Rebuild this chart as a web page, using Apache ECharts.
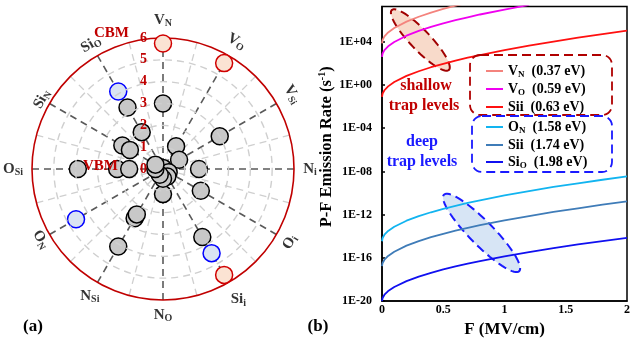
<!DOCTYPE html>
<html>
<head>
<meta charset="utf-8">
<script src="https://cdn.jsdelivr.net/npm/echarts@6/dist/echarts.min.js"></script>
<style>
html,body{margin:0;padding:0;background:#fff;}
#main{width:633px;height:343px;}
</style>
</head>
<body>
<div id="main"></div>
<script>
// ---------- Panel (a) data ----------
const categories = ['VN','VO','VSi','Ni','Oi','Sii','NO','NSi','ON','OSi','SiN','SiO'];
const catMain = ['V','V','V','N','O','Si','N','N','O','O','Si','Si'];
const catSub  = ['N','O','Si','i','i','i','O','Si','N','Si','N','O'];
const radialTicks = [0,1,2,3,4,5,6];

const grayCat = ['VN','VN','VO','VSi','VSi','Ni','Oi','Oi','Sii','Sii','NO','NO','NSi','NSi','NSi','NSi','OSi','OSi','OSi','OSi','SiN','SiN','SiN','SiO','SiO'];
const grayR   = [3.0, 0.05,1.2, 3.0, 0.85, 1.65,2.0, 0.3, 3.6, 0.4, 1.15,0.45,4.1, 2.6, 2.4, 0.3, 3.9, 2.1, 1.55,0.35,2.15,1.75,0.4, 3.25,1.95];
const shallowCat = ['VN','VO','Sii'];
const shallowR   = [5.75,5.6,5.6];
const deepCat = ['SiO','ON','Sii'];
const deepR   = [4.1,4.6,4.45];

// ---------- Panel (b) data ----------
const fieldX = [0,0.005,0.02,0.05,0.1,0.2,0.3,0.4,0.5,0.6,0.7,0.8,1.0,1.2,1.4,1.6,1.8,2.0];
const logVN   = [3.85,4.17,4.49,4.86,5.27,5.86,6.31,6.70,7.03,7.34,7.62];
const logVO   = [2.60,2.91,3.22,3.58,3.98,4.56,5.00,5.37,5.70,5.99,6.26,6.52,6.98,7.40];
const logSii1 = [-1.10,-0.79,-0.49,-0.13,0.27,0.84,1.27,1.64,1.96,2.25,2.52,2.77,3.23,3.64,4.02,4.38,4.71,5.02];
const logON   = [-14.46,-14.16,-13.86,-13.51,-13.12,-12.56,-12.14,-11.78,-11.46,-11.18,-10.91,-10.67,-10.22,-9.82,-9.44,-9.10,-8.77,-8.46];
const logSii2 = [-16.77,-16.47,-16.17,-15.82,-15.43,-14.87,-14.45,-14.09,-13.77,-13.49,-13.22,-12.98,-12.53,-12.13,-11.75,-11.41,-11.08,-10.77];
const logSiO  = [-20,-19.71,-19.41,-19.07,-18.69,-18.15,-17.73,-17.38,-17.07,-16.79,-16.54,-16.30,-15.86,-15.47,-15.10,-14.76,-14.45,-14.15];

const seriesNames = ['VN (0.37 eV)','VO (0.59 eV)','Sii (0.63 eV)','ON (1.58 eV)','Sii (1.74 eV)','SiO (1.98 eV)'];
const seriesMain  = ['V','V','Sii','O','Sii','Si'];
const seriesSub   = ['N','O','','N','','O'];
const seriesEv    = ['(0.37 eV)','(0.59 eV)','(0.63 eV)','(1.58 eV)','(1.74 eV)','(1.98 eV)'];
const seriesVals  = [logVN,logVO,logSii1,logON,logSii2,logSiO];

// ellipse annotations: [x1, logY1, x2, logY2] tips of major axis (data coords)
const ellipseShallow = [0.08, 6.93, 0.546, 1.39];
const ellipseDeep    = [0.506, -10.15, 1.12, -17.23];

// ---------- styles ----------
const FF = '"Liberation Serif","Times New Roman",serif';
const DARKRED = '#c00000';
const colors = ['#f4837d','#f000f0','#ff1010','#12b4f0','#3f7cb8','#1010f0'];
const labelRotate = [0,-30,-60,0,60,0,0,0,-60,0,60,30];
const labelRadius = [6.82,6.74,6.83,6.73,6.7,6.9,6.7,6.7,6.46,6.87,6.4,6.6];
const POLAR_R = 131, RMAX = 6;

function angleOf(cat){ return categories.indexOf(cat) * 30; }

const chart = echarts.init(document.getElementById('main'), null, {renderer:'canvas'});

const subRich = {
  m:{fontFamily:FF,fontWeight:'bold',fontSize:15,color:'#000'},
  s:{fontFamily:FF,fontWeight:'bold',fontSize:10,color:'#000',padding:[7,0,0,0]}
};

function ellipseRender(color, fill, semiMinor){
  return function(params, api){
    const p1 = api.coord([api.value(0), api.value(1)]);
    const p2 = api.coord([api.value(2), api.value(3)]);
    const cx = (p1[0]+p2[0])/2, cy = (p1[1]+p2[1])/2;
    const dx = p2[0]-p1[0], dy = p2[1]-p1[1];
    const L = Math.sqrt(dx*dx+dy*dy)/2;
    const ux = dx/(2*L), uy = dy/(2*L);
    const vx = -uy, vy = ux;
    const pts = [];
    for (let k=0;k<72;k++){
      const t = k/72*Math.PI*2;
      pts.push([cx + ux*L*Math.cos(t) + vx*semiMinor*Math.sin(t),
                cy + uy*L*Math.cos(t) + vy*semiMinor*Math.sin(t)]);
    }
    return {type:'polygon', shape:{points:pts},
      style:{fill:fill, stroke:color, lineWidth:2, lineDash:[9,5]}};
  };
}

const GRAYC = '#cfcfcf';
const option = {
  animation:false,
  backgroundColor:'#fff',
  polar:{center:[163,169], radius:POLAR_R},
  angleAxis:{
    type:'value', min:0, max:360, interval:30, startAngle:90, clockwise:true,
    axisLine:{show:true, lineStyle:{color:DARKRED, width:1.6, type:'solid'}},
    axisTick:{show:false}, axisLabel:{show:false},
    splitLine:{show:true, lineStyle:{color:'#5a5a5a', width:1.6, type:[7,5]}},
    minorTick:{show:false, splitNumber:2},
    minorSplitLine:{show:true, lineStyle:{color:GRAYC, width:1.3, type:[7,5]}},
    z:1
  },
  radiusAxis:{
    type:'value', min:0, max:RMAX, interval:1,
    axisLine:{show:false}, axisTick:{show:false},
    splitLine:{show:true, lineStyle:{color:[GRAYC,GRAYC,GRAYC,GRAYC,GRAYC,GRAYC,'rgba(0,0,0,0)'], width:1.4, type:[7,5]}},
    axisLabel:{
      show:true, margin:16, color:DARKRED,
      fontFamily:FF, fontWeight:'bold', fontSize:14,
      formatter:function(v){
        if (radialTicks.indexOf(v) < 0) return '';
        if (v===6) return '{c6|CBM}{n|6}';
        if (v===0) return '{c0|VBM}{n|0}';
        return '{n|'+v+'}';
      },
      rich:{
        n:{fontFamily:FF,fontWeight:'bold',fontSize:14,color:DARKRED},
        c6:{fontFamily:FF,fontWeight:'bold',fontSize:15,color:DARKRED,padding:[0,11,10,0]},
        c0:{fontFamily:FF,fontWeight:'bold',fontSize:15,color:DARKRED,padding:[0,22,6,0]}
      }
    },
    z:20
  },
  grid:{left:382, right:1, top:6.5, bottom:41.3, show:true, borderColor:'#000', borderWidth:1.5, backgroundColor:'transparent'},
  xAxis:{
    type:'value', min:0, max:2, interval:0.5,
    axisLine:{show:true, onZero:false, lineStyle:{color:'#000', width:1.5}},
    axisTick:{show:false},
    splitLine:{show:false},
    axisLabel:{color:'#000', fontFamily:FF, fontWeight:'bold', fontSize:12, margin:3},
    name:'F (MV/cm)', nameLocation:'middle', nameGap:19,
    nameTextStyle:{color:'#000', fontFamily:FF, fontWeight:'bold', fontSize:17}
  },
  yAxis:{
    type:'value', min:-20, max:7.26, interval:4,
    axisLine:{show:true, onZero:false, lineStyle:{color:'#000', width:1.5}},
    axisTick:{show:true, inside:true, length:3, lineStyle:{color:'#000', width:1.5}},
    splitLine:{show:false},
    axisLabel:{color:'#000', fontFamily:FF, fontWeight:'bold', fontSize:12, margin:10, showMaxLabel:false,
      formatter:function(v){
        if (Math.abs(v % 4) > 1e-9) return '';
        const a = Math.abs(Math.round(v));
        return '1E' + (v>=0?'+':'-') + (a<10?'0'+a:String(a));
      }},
    name:'{t|P-F Emission Rate (s}{p|-1}{t|)}', nameLocation:'middle', nameGap:44,
    nameTextStyle:{
      padding:[0,0,0,14],
      rich:{
        t:{color:'#000', fontFamily:FF, fontWeight:'bold', fontSize:16.5},
        p:{color:'#000', fontFamily:FF, fontWeight:'bold', fontSize:10, padding:[0,0,8,0]}
      }
    }
  },
  legend:[
    {
      data:seriesNames.slice(0,3), orient:'vertical', left:481, top:59,
      icon:'rect', itemWidth:17, itemHeight:2, itemGap:3,
      formatter:legendFmt, textStyle:{rich:legendRich()}, selectedMode:false
    },
    {
      data:seriesNames.slice(3), orient:'vertical', left:481, top:115,
      icon:'rect', itemWidth:17, itemHeight:2, itemGap:3,
      formatter:legendFmt, textStyle:{rich:legendRich()}, selectedMode:false
    }
  ],
  graphic:[
    {type:'rect', shape:{x:470, y:55, width:142, height:60, r:10}, z:10,
      style:{fill:'none', stroke:'#b00000', lineWidth:1.8, lineDash:[9,5]}},
    {type:'rect', shape:{x:472, y:116, width:140, height:56, r:10}, z:10,
      style:{fill:'none', stroke:'#1a1aff', lineWidth:1.8, lineDash:[9,5]}},
    {type:'text', x:426, y:86, z:10, style:{text:'shallow', font:'bold 16px '+FF, fill:DARKRED, textAlign:'center', textVerticalAlign:'middle'}},
    {type:'text', x:424, y:106, z:10, style:{text:'trap levels', font:'bold 16px '+FF, fill:DARKRED, textAlign:'center', textVerticalAlign:'middle'}},
    {type:'text', x:422, y:142, z:10, style:{text:'deep', font:'bold 16px '+FF, fill:'#1a1aff', textAlign:'center', textVerticalAlign:'middle'}},
    {type:'text', x:422, y:162, z:10, style:{text:'trap levels', font:'bold 16px '+FF, fill:'#1a1aff', textAlign:'center', textVerticalAlign:'middle'}},
    {type:'text', x:33, y:327, z:10, style:{text:'(a)', font:'bold 17px '+FF, fill:'#000', textAlign:'center', textVerticalAlign:'middle'}},
    {type:'text', x:318, y:327, z:10, style:{text:'(b)', font:'bold 17px '+FF, fill:'#000', textAlign:'center', textVerticalAlign:'middle'}}
  ],
  series:[]
};

function legendFmt(name){
  const i = seriesNames.indexOf(name);
  let s = '{m|'+seriesMain[i]+'}';
  if (seriesSub[i]) s += '{s|'+seriesSub[i]+'}';
  s += '{m|  '+seriesEv[i]+'}';
  return s;
}
function legendRich(){
  return {
    m:{fontFamily:FF,fontWeight:'bold',fontSize:14,color:'#000'},
    s:{fontFamily:FF,fontWeight:'bold',fontSize:9,color:'#000',padding:[7,0,0,0]}
  };
}

// polar category labels (anchored on the ring, pushed outward)
const unit = POLAR_R / RMAX;
option.series.push({
  type:'scatter', coordinateSystem:'polar', symbol:'rect', symbolSize:2, silent:true,
  itemStyle:{color:'rgba(0,0,0,0)'},
  data:categories.map((c,i)=>{
    const a = angleOf(c) * Math.PI / 180;
    const d = (labelRadius[i] - RMAX) * unit;
    return {
      value:[RMAX, angleOf(c)],
      label:{show:true, rotate:labelRotate[i], color:'#000',
        position:[1 + d*Math.sin(a), 1 - d*Math.cos(a)], align:'center', verticalAlign:'middle',
        formatter:'{m|'+catMain[i]+'}{s|'+catSub[i]+'}', rich:subRich}
    };
  }),
  labelLayout:{hideOverlap:false},
  z:30
});
// gray defect levels
option.series.push({
  type:'scatter', coordinateSystem:'polar', symbol:'circle', symbolSize:17,
  itemStyle:{color:'#c8c8c8', borderColor:'#000', borderWidth:1.5, opacity:1},
  data:grayCat.map((c,i)=>[grayR[i], angleOf(c)]), z:6
});
// shallow levels
option.series.push({
  type:'scatter', coordinateSystem:'polar', symbol:'circle', symbolSize:17,
  itemStyle:{color:'#fbe3d3', borderColor:'#d00000', borderWidth:1.5, opacity:1},
  data:shallowCat.map((c,i)=>[shallowR[i], angleOf(c)]), z:6
});
// deep levels
option.series.push({
  type:'scatter', coordinateSystem:'polar', symbol:'circle', symbolSize:17,
  itemStyle:{color:'#dae3f3', borderColor:'#0000ff', borderWidth:1.5, opacity:1},
  data:deepCat.map((c,i)=>[deepR[i], angleOf(c)]), z:6
});

// ellipses
option.series.push({
  type:'custom', coordinateSystem:'cartesian2d', silent:true, z:1,
  renderItem:ellipseRender('#a00000','rgba(246,206,184,0.75)',10),
  data:[ellipseShallow]
});
option.series.push({
  type:'custom', coordinateSystem:'cartesian2d', silent:true, z:1,
  renderItem:ellipseRender('#1a1aff','rgba(205,222,242,0.8)',12),
  data:[ellipseDeep]
});

// P-F emission curves
seriesNames.forEach((nm,i)=>{
  option.series.push({
    type:'line', name:nm, xAxisIndex:0, yAxisIndex:0,
    symbol:'none', smooth:false, clip:true,
    lineStyle:{color:colors[i], width:1.8}, itemStyle:{color:colors[i]},
    data:seriesVals[i].map((v,k)=>[fieldX[k], v]), z:3
  });
});

chart.setOption(option);
</script>
</body>
</html>
